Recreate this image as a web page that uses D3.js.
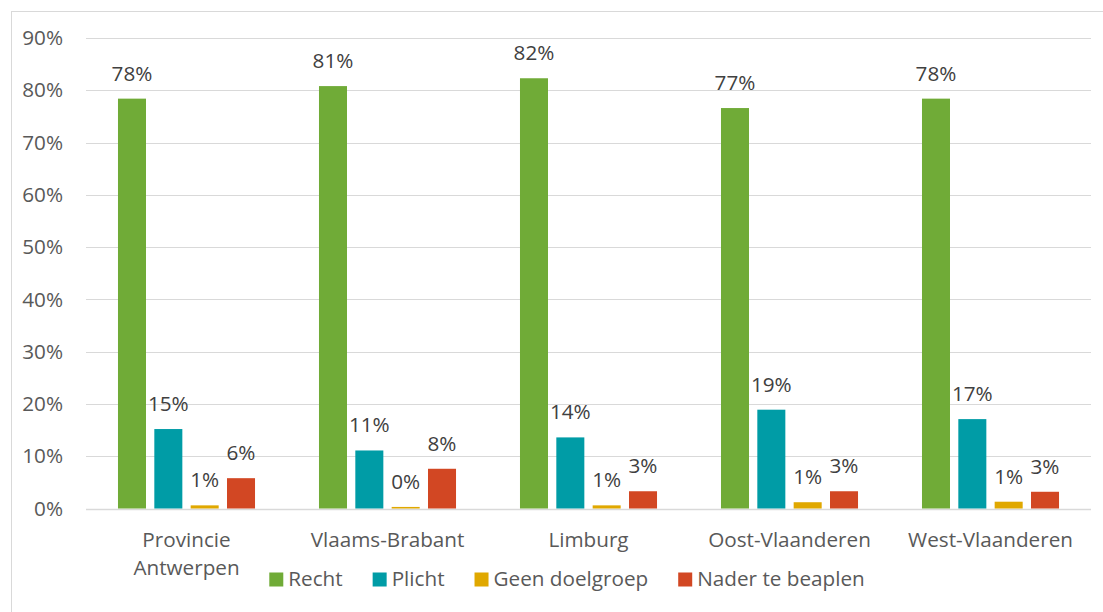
<!DOCTYPE html>
<html>
<head>
<meta charset="utf-8">
<script src="https://cdn.jsdelivr.net/npm/d3@7"></script>
<style>
  html, body { margin: 0; padding: 0; background: #ffffff; }
  svg { display: block; font-family: "Open Sans", "Noto Sans", sans-serif; }
</style>
</head>
<body>
<svg id="chart" width="1103" height="612"></svg>
<script>
const categories = [["Provincie", "Antwerpen"], ["Vlaams-Brabant"], ["Limburg"], ["Oost-Vlaanderen"], ["West-Vlaanderen"]];
const seriesNames = ["Recht", "Plicht", "Geen doelgroep", "Nader te beaplen"];
const recht = [0.784, 0.808, 0.823, 0.766, 0.784];
const plicht = [0.152, 0.111, 0.136, 0.189, 0.171];
const geenDoelgroep = [0.006, 0.003, 0.006, 0.012, 0.013];
const naderTeBeaplen = [0.058, 0.076, 0.033, 0.033, 0.032];
const yTicks = [0, 0.1, 0.2, 0.3, 0.4, 0.5, 0.6, 0.7, 0.8, 0.9];
const colors = ["#70AB37", "#009CA6", "#E0A800", "#D24723"];

const seriesValues = [recht, plicht, geenDoelgroep, naderTeBeaplen];
const catKeys = categories.map(c => c.join(" "));
const data = catKeys.map((k, i) => ({
  key: k,
  lines: categories[i],
  values: seriesNames.map((s, j) => ({ series: s, value: seriesValues[j][i], color: colors[j] }))
}));

const svg = d3.select("#chart");
const textColor = "#595959";
const fontSize = 20.7;

// outer border
svg.append("rect").attr("x", 11.5).attr("y", 11.5).attr("width", 1100).attr("height", 620)
  .attr("fill", "none").attr("stroke", "#d9d9d9").attr("stroke-width", 1);

const plot = { left: 86, right: 1091, top: 38, bottom: 508.5 };

const y = d3.scaleLinear().domain([0, 0.9]).range([plot.bottom, plot.top]);
const x0 = d3.scaleBand().domain(catKeys).range([plot.left, plot.right]).padding(0);
const x1 = d3.scaleBand().domain(seriesNames).range([0, x0.bandwidth()])
  .paddingInner(0.229).paddingOuter(0.88);

// gridlines
svg.append("g").selectAll("line").data(yTicks).join("line")
  .attr("x1", plot.left).attr("x2", plot.right)
  .attr("y1", d => Math.round(y(d)) + 0.5).attr("y2", d => Math.round(y(d)) + 0.5)
  .attr("stroke", "#d9d9d9").attr("stroke-width", d => d === 0 ? 1.5 : 1);

// y axis labels
const yAxis = d3.axisLeft(y).tickValues(yTicks).tickFormat(d3.format(".0%")).tickSize(0).tickPadding(0);
const yg = svg.append("g").attr("transform", `translate(${63},0)`).call(yAxis);
yg.select(".domain").remove();
yg.selectAll("text").attr("fill", textColor).attr("font-size", fontSize)
  .attr("font-family", "'Open Sans', 'Noto Sans', sans-serif");

// bars
const groups = svg.append("g").selectAll("g").data(data).join("g")
  .attr("transform", d => `translate(${x0(d.key)},0)`);

groups.selectAll("rect").data(d => d.values).join("rect")
  .attr("x", d => x1(d.series))
  .attr("y", d => y(d.value))
  .attr("width", x1.bandwidth())
  .attr("height", d => y(0) - y(d.value))
  .attr("fill", d => d.color);

groups.selectAll("text.val").data(d => d.values).join("text")
  .attr("class", "val")
  .attr("x", d => x1(d.series) + x1.bandwidth() / 2)
  .attr("y", d => y(d.value) - 18)
  .attr("text-anchor", "middle")
  .attr("fill", "#404040")
  .attr("font-size", fontSize)
  .text(d => d3.format(".0%")(d.value));

// category labels
const xl = svg.append("g").selectAll("text").data(data).join("text")
  .attr("x", d => x0(d.key) + x0.bandwidth() / 2)
  .attr("y", 547)
  .attr("text-anchor", "middle")
  .attr("fill", textColor)
  .attr("font-size", fontSize);
xl.selectAll("tspan").data(d => d.lines).join("tspan")
  .attr("x", function() { return d3.select(this.parentNode).attr("x"); })
  .attr("dy", (d, i) => i === 0 ? 0 : 28)
  .text(d => d);

// legend
const legend = svg.append("g");
const items = legend.selectAll("g").data(seriesNames).join("g");
items.append("rect").attr("width", 14).attr("height", 14).attr("y", 572.5)
  .attr("fill", (d, i) => colors[i]);
items.append("text").attr("x", 19).attr("y", 586).attr("fill", textColor)
  .attr("font-size", fontSize).text(d => d);
let widths = [];
items.each(function() { widths.push(19 + this.querySelector("text").getComputedTextLength()); });
const gap = 30;
const total = d3.sum(widths) + gap * (widths.length - 1);
let cx = 567 - total / 2;
items.attr("transform", (d, i) => {
  const t = `translate(${cx},0)`;
  cx += widths[i] + gap;
  return t;
});
</script>
</body>
</html>
